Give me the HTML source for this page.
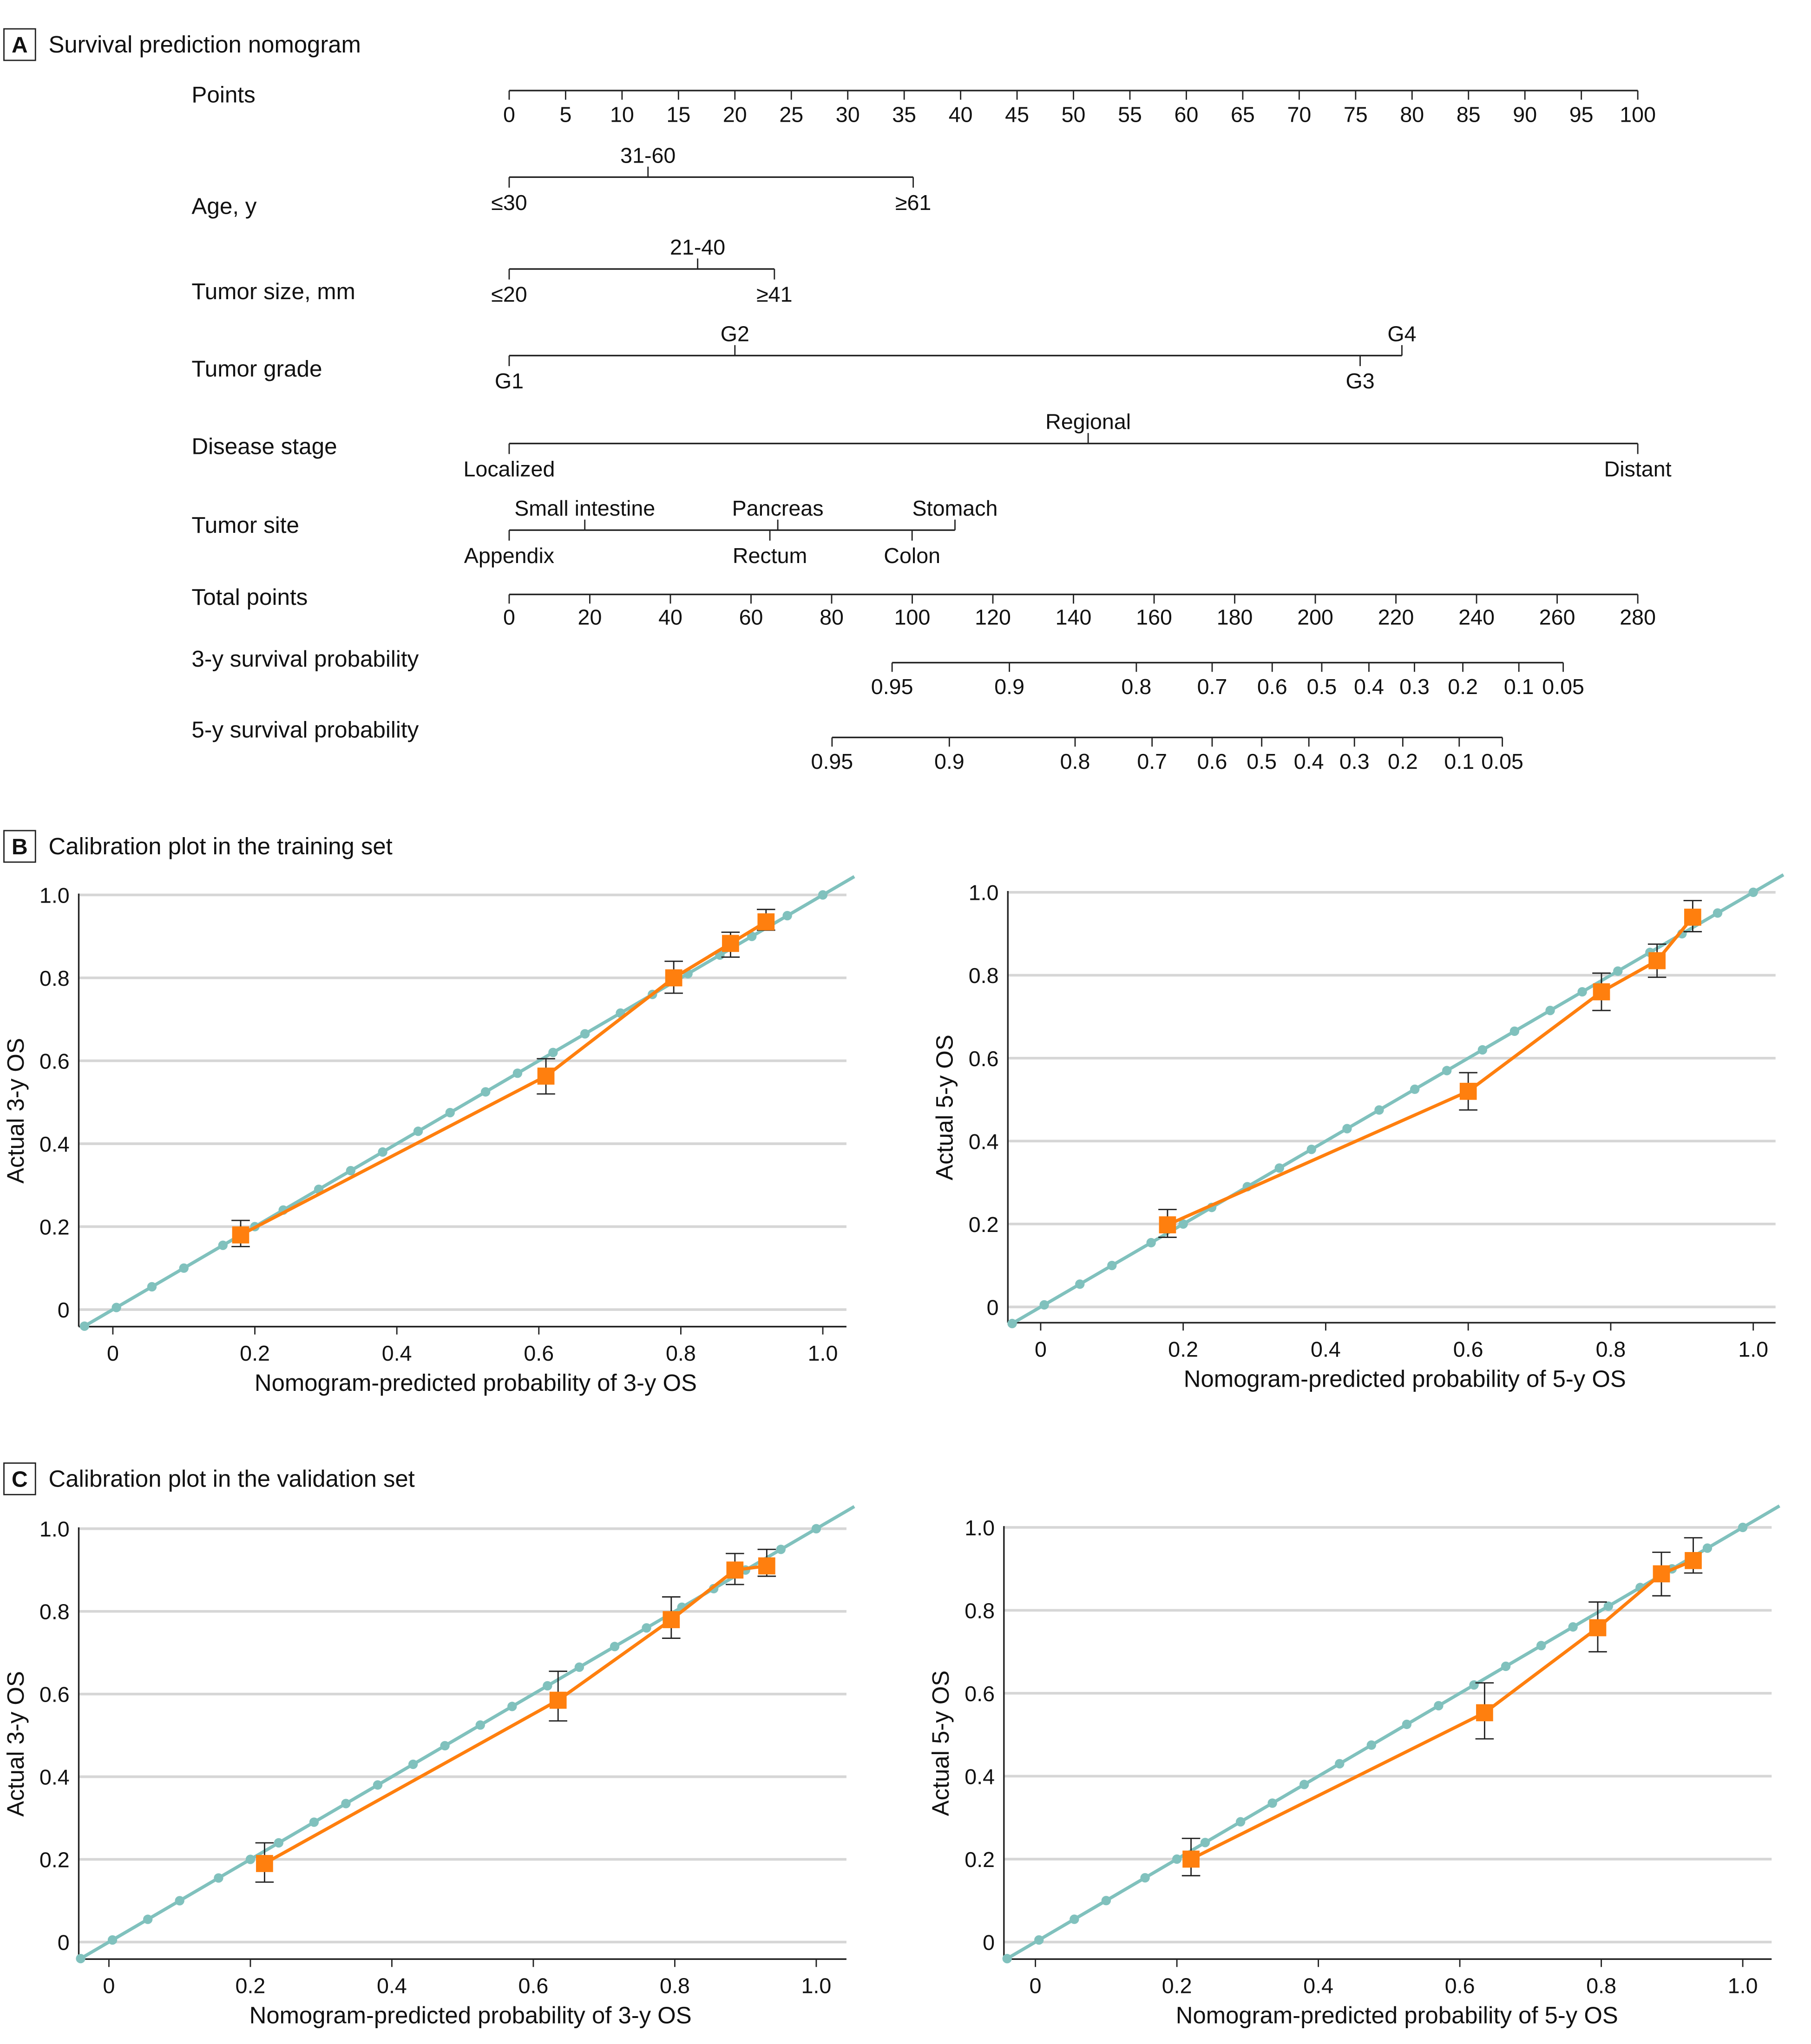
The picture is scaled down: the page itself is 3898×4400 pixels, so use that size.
<!DOCTYPE html>
<html><head><meta charset="utf-8">
<style>
html,body{margin:0;padding:0;background:#fff;}
svg{display:block;}
text{font-family:"Liberation Sans Narrow","Liberation Sans",sans-serif;fill:#111;}
</style></head>
<body>
<svg id="fig" width="3898" height="4400" viewBox="0 0 1380 1557.7" preserveAspectRatio="none" xmlns="http://www.w3.org/2000/svg">
<rect x="0" y="0" width="1380" height="1558" fill="#fff"/>
<g>
<rect x="3" y="22" width="24" height="24" fill="none" stroke="#222" stroke-width="1"/>
<text x="15" y="40" font-size="17" text-anchor="middle" font-weight="bold">A</text>
<text x="37" y="40" font-size="18">Survival prediction nomogram</text>
</g>
<g>
<rect x="3" y="633" width="24" height="24" fill="none" stroke="#222" stroke-width="1"/>
<text x="15" y="651" font-size="17" text-anchor="middle" font-weight="bold">B</text>
<text x="37" y="651" font-size="18">Calibration plot in the training set</text>
</g>
<g>
<rect x="3" y="1115" width="24" height="24" fill="none" stroke="#222" stroke-width="1"/>
<text x="15" y="1133" font-size="17" text-anchor="middle" font-weight="bold">C</text>
<text x="37" y="1133" font-size="18">Calibration plot in the validation set</text>
</g>
<g id="nomo"></g>
<g id="cal"></g>
</svg>
<script>
// ---- Nomogram data ----
const pointsTicks = [0,5,10,15,20,25,30,35,40,45,50,55,60,65,70,75,80,85,90,95,100];
const totalTicks = [0,20,40,60,80,100,120,140,160,180,200,220,240,260,280];
const ageLevels = ["≤30","31-60","≥61"];
const agePoints = [0,12.3,35.8];
const sizeLevels = ["≤20","21-40","≥41"];
const sizePoints = [0,16.7,23.5];
const gradeLevels = ["G1","G2","G3","G4"];
const gradePoints = [0,20,75.4,79.1];
const stageLevels = ["Localized","Regional","Distant"];
const stagePoints = [0,51.3,100];
const siteLevels = ["Appendix","Small intestine","Rectum","Pancreas","Colon","Stomach"];
const siteAll = [0,6.7,23.1,23.8,35.7,39.5];
const surv3Labels = ["0.95","0.9","0.8","0.7","0.6","0.5","0.4","0.3","0.2","0.1","0.05"];
const surv3Total = [95,124.1,155.6,174.4,189.3,201.6,213.3,224.6,236.6,250.5,261.5];
const surv5Labels = ["0.95","0.9","0.8","0.7","0.6","0.5","0.4","0.3","0.2","0.1","0.05"];
const surv5Total = [80.1,109.2,140.4,159.5,174.4,186.7,198.4,209.7,221.7,235.7,246.4];

// ---- Calibration data ----
const diagX = [-0.04,0.005,0.055,0.1,0.155,0.2,0.24,0.29,0.335,0.38,0.43,0.475,0.525,0.57,0.62,0.665,0.715,0.76,0.81,0.855,0.9,0.95,1.0];
const bLeftX = [0.18,0.61,0.79,0.87,0.92];
const bLeftY = [0.18,0.563,0.80,0.883,0.935];
const bLeftLo = [0.152,0.52,0.763,0.85,0.915];
const bLeftHi = [0.215,0.605,0.84,0.91,0.965];
const bRightX = [0.178,0.60,0.787,0.865,0.915];
const bRightY = [0.198,0.52,0.76,0.835,0.94];
const bRightLo = [0.168,0.475,0.715,0.795,0.905];
const bRightHi = [0.235,0.565,0.805,0.875,0.98];
const cLeftX = [0.22,0.635,0.795,0.885,0.93];
const cLeftY = [0.19,0.585,0.78,0.90,0.91];
const cLeftLo = [0.145,0.535,0.735,0.865,0.885];
const cLeftHi = [0.24,0.655,0.835,0.94,0.95];
const cRightX = [0.22,0.635,0.795,0.885,0.93];
const cRightY = [0.20,0.553,0.758,0.888,0.92];
const cRightLo = [0.16,0.49,0.70,0.835,0.89];
const cRightHi = [0.25,0.625,0.82,0.94,0.975];
const calTicks = [0,0.2,0.4,0.6,0.8,1.0];
const calTickLabels = ["0","0.2","0.4","0.6","0.8","1.0"];

const NS="http://www.w3.org/2000/svg";
function mk(parent,tag,attrs,txt){const e=document.createElementNS(NS,tag);for(const k in attrs)e.setAttribute(k,attrs[k]);if(txt!==undefined)e.textContent=txt;parent.appendChild(e);return e;}

const nomo=document.getElementById('nomo');
const px = p => 388 + p*8.6;
const tx = t => 388 + t*(860/280);
const FS=16.5;

function rowLabel(name,y,dn){
  const t=mk(nomo,'text',{x:146,y:y,'font-size':17.5},name);
  
  
}
rowLabel("Points",78,'points-label');
mk(nomo,'line',{x1:px(0),y1:69,x2:px(100),y2:69,stroke:'#222','stroke-width':1.2});
pointsTicks.forEach(v=>{
  mk(nomo,'line',{x1:px(v),y1:69,x2:px(v),y2:76,stroke:'#222','stroke-width':1});
  const t=mk(nomo,'text',{x:px(v),y:93,'font-size':FS,'text-anchor':'middle'},String(v));
  
  
});
function catRow(label,dn,y,levels,pts,ups,labY){
  rowLabel(label,labY,dn);
  const mn=Math.min(...pts),mx=Math.max(...pts);
  mk(nomo,'line',{x1:px(mn),y1:y,x2:px(mx),y2:y,stroke:'#222','stroke-width':1.2});
  levels.forEach((lv,i)=>{
    const x=px(pts[i]);
    if(ups[i]){
      mk(nomo,'line',{x1:x,y1:y-8,x2:x,y2:y,stroke:'#222','stroke-width':1});
      const t=mk(nomo,'text',{x:x,y:y-11,'font-size':FS,'text-anchor':'middle'},lv);
      
      
    } else {
      mk(nomo,'line',{x1:x,y1:y,x2:x,y2:y+8,stroke:'#222','stroke-width':1});
      const t=mk(nomo,'text',{x:x,y:y+25,'font-size':FS,'text-anchor':'middle'},lv);
      
      
    }
  });
}
catRow("Age, y",'age-label',135,ageLevels,agePoints,[false,true,false],163);
catRow("Tumor size, mm",'tumor-size-label',205,sizeLevels,sizePoints,[false,true,false],228);
catRow("Tumor grade",'tumor-grade-label',271,gradeLevels,gradePoints,[false,true,false,true],287);
catRow("Disease stage",'disease-stage-label',338,stageLevels,stagePoints,[false,true,false],346);
catRow("Tumor site",'tumor-site-label',404,siteLevels,siteAll,[false,true,false,true,false,true],406);
rowLabel("Total points",461,'total-points-label');
mk(nomo,'line',{x1:tx(0),y1:453,x2:tx(280),y2:453,stroke:'#222','stroke-width':1.2});
totalTicks.forEach(v=>{
  mk(nomo,'line',{x1:tx(v),y1:453,x2:tx(v),y2:460,stroke:'#222','stroke-width':1});
  const t=mk(nomo,'text',{x:tx(v),y:476,'font-size':FS,'text-anchor':'middle'},String(v));
  
  
});
function survRow(label,dn,y,labs,tots,labY){
  rowLabel(label,labY,dn);
  mk(nomo,'line',{x1:tx(tots[0]),y1:y,x2:tx(tots[tots.length-1]),y2:y,stroke:'#222','stroke-width':1.2});
  labs.forEach((l,i)=>{
    const x=tx(tots[i]);
    mk(nomo,'line',{x1:x,y1:y,x2:x,y2:y+7,stroke:'#222','stroke-width':1});
    const t=mk(nomo,'text',{x:x,y:y+24,'font-size':FS,'text-anchor':'middle'},l);
    
    
  });
}
survRow("3-y survival probability",'surv3-label',505,surv3Labels,surv3Total,508);
survRow("5-y survival probability",'surv5-label',562,surv5Labels,surv5Total,562);

const cal=document.getElementById('cal');
function calPlot(name,o,X,Y,LO,HI,xTitle,yTitle){
  const g=mk(cal,'g',{});
  
  
  const sx=v=>o.x0+v*(o.x1-o.x0);
  const sy=v=>o.y0-v*(o.y0-o.y1);
  calTicks.forEach((v,i)=>{
    mk(g,'line',{x1:o.ax,y1:sy(v),x2:o.right,y2:sy(v),stroke:'#d6d6d6','stroke-width':2});
    const t=mk(g,'text',{x:o.ax-7,y:sy(v)+6,'font-size':FS,'text-anchor':'end'},calTickLabels[i]);
    
    
  });
  mk(g,'line',{x1:o.ax,y1:sy(1)-1,x2:o.ax,y2:o.axy,stroke:'#222','stroke-width':1.2});
  mk(g,'line',{x1:o.ax,y1:o.axy,x2:o.right,y2:o.axy,stroke:'#222','stroke-width':1.2});
  calTicks.forEach((v,i)=>{
    mk(g,'line',{x1:sx(v),y1:o.axy,x2:sx(v),y2:o.axy+6,stroke:'#222','stroke-width':1});
    const t=mk(g,'text',{x:sx(v),y:o.axy+26,'font-size':FS,'text-anchor':'middle'},calTickLabels[i]);
    
    
  });
  const xt=mk(g,'text',{x:(o.x0+o.x1)/2+6,y:o.axy+49,'font-size':18,'text-anchor':'middle'},xTitle);
  
  
  const cy=(sy(1)+o.axy)/2;
  const yt=mk(g,'text',{x:o.ax-42,y:cy,'font-size':18,'text-anchor':'middle',transform:`rotate(-90 ${o.ax-42} ${cy})`},yTitle);
  
  
  const xe=(o.right-o.x0)/(o.x1-o.x0);
  const dl=mk(g,'line',{x1:sx(-0.04),y1:sy(-0.04),x2:o.right+6,y2:sy(xe+0.011),stroke:'#80c1bd','stroke-width':2.5});
  
  
  diagX.forEach(v=>{
    const c=mk(g,'circle',{cx:sx(v),cy:sy(v),r:3.6,fill:'#80c1bd'});
    
    
  });
  const pl=mk(g,'polyline',{points:X.map((v,i)=>sx(v)+','+sy(Y[i])).join(' '),fill:'none',stroke:'#ff7f0e','stroke-width':2.5});
  
  
  X.forEach((v,i)=>{
    const x=sx(v);
    const eb=mk(g,'path',{d:`M${x},${sy(LO[i])}V${sy(HI[i])}M${x-7},${sy(LO[i])}H${x+7}M${x-7},${sy(HI[i])}H${x+7}`,stroke:'#222','stroke-width':1,fill:'none'});
    
    
    const r=mk(g,'rect',{x:x-6.5,y:sy(Y[i])-6.5,width:13,height:13,fill:'#ff7f0e'});
    
    
  });
}
calPlot('calibration-train-3y',{ax:60,right:645,x0:86,x1:627,y0:998,y1:682,axy:1011},bLeftX,bLeftY,bLeftLo,bLeftHi,"Nomogram-predicted probability of 3-y OS","Actual 3-y OS");
calPlot('calibration-train-5y',{ax:768,right:1353,x0:793,x1:1336,y0:996,y1:680,axy:1008},bRightX,bRightY,bRightLo,bRightHi,"Nomogram-predicted probability of 5-y OS","Actual 5-y OS");
calPlot('calibration-valid-3y',{ax:60,right:645,x0:83,x1:622,y0:1480,y1:1165,axy:1493},cLeftX,cLeftY,cLeftLo,cLeftHi,"Nomogram-predicted probability of 3-y OS","Actual 3-y OS");
calPlot('calibration-valid-5y',{ax:765,right:1350,x0:789,x1:1328,y0:1480,y1:1164,axy:1493},cRightX,cRightY,cRightLo,cRightHi,"Nomogram-predicted probability of 5-y OS","Actual 5-y OS");
</script>
</body></html>
